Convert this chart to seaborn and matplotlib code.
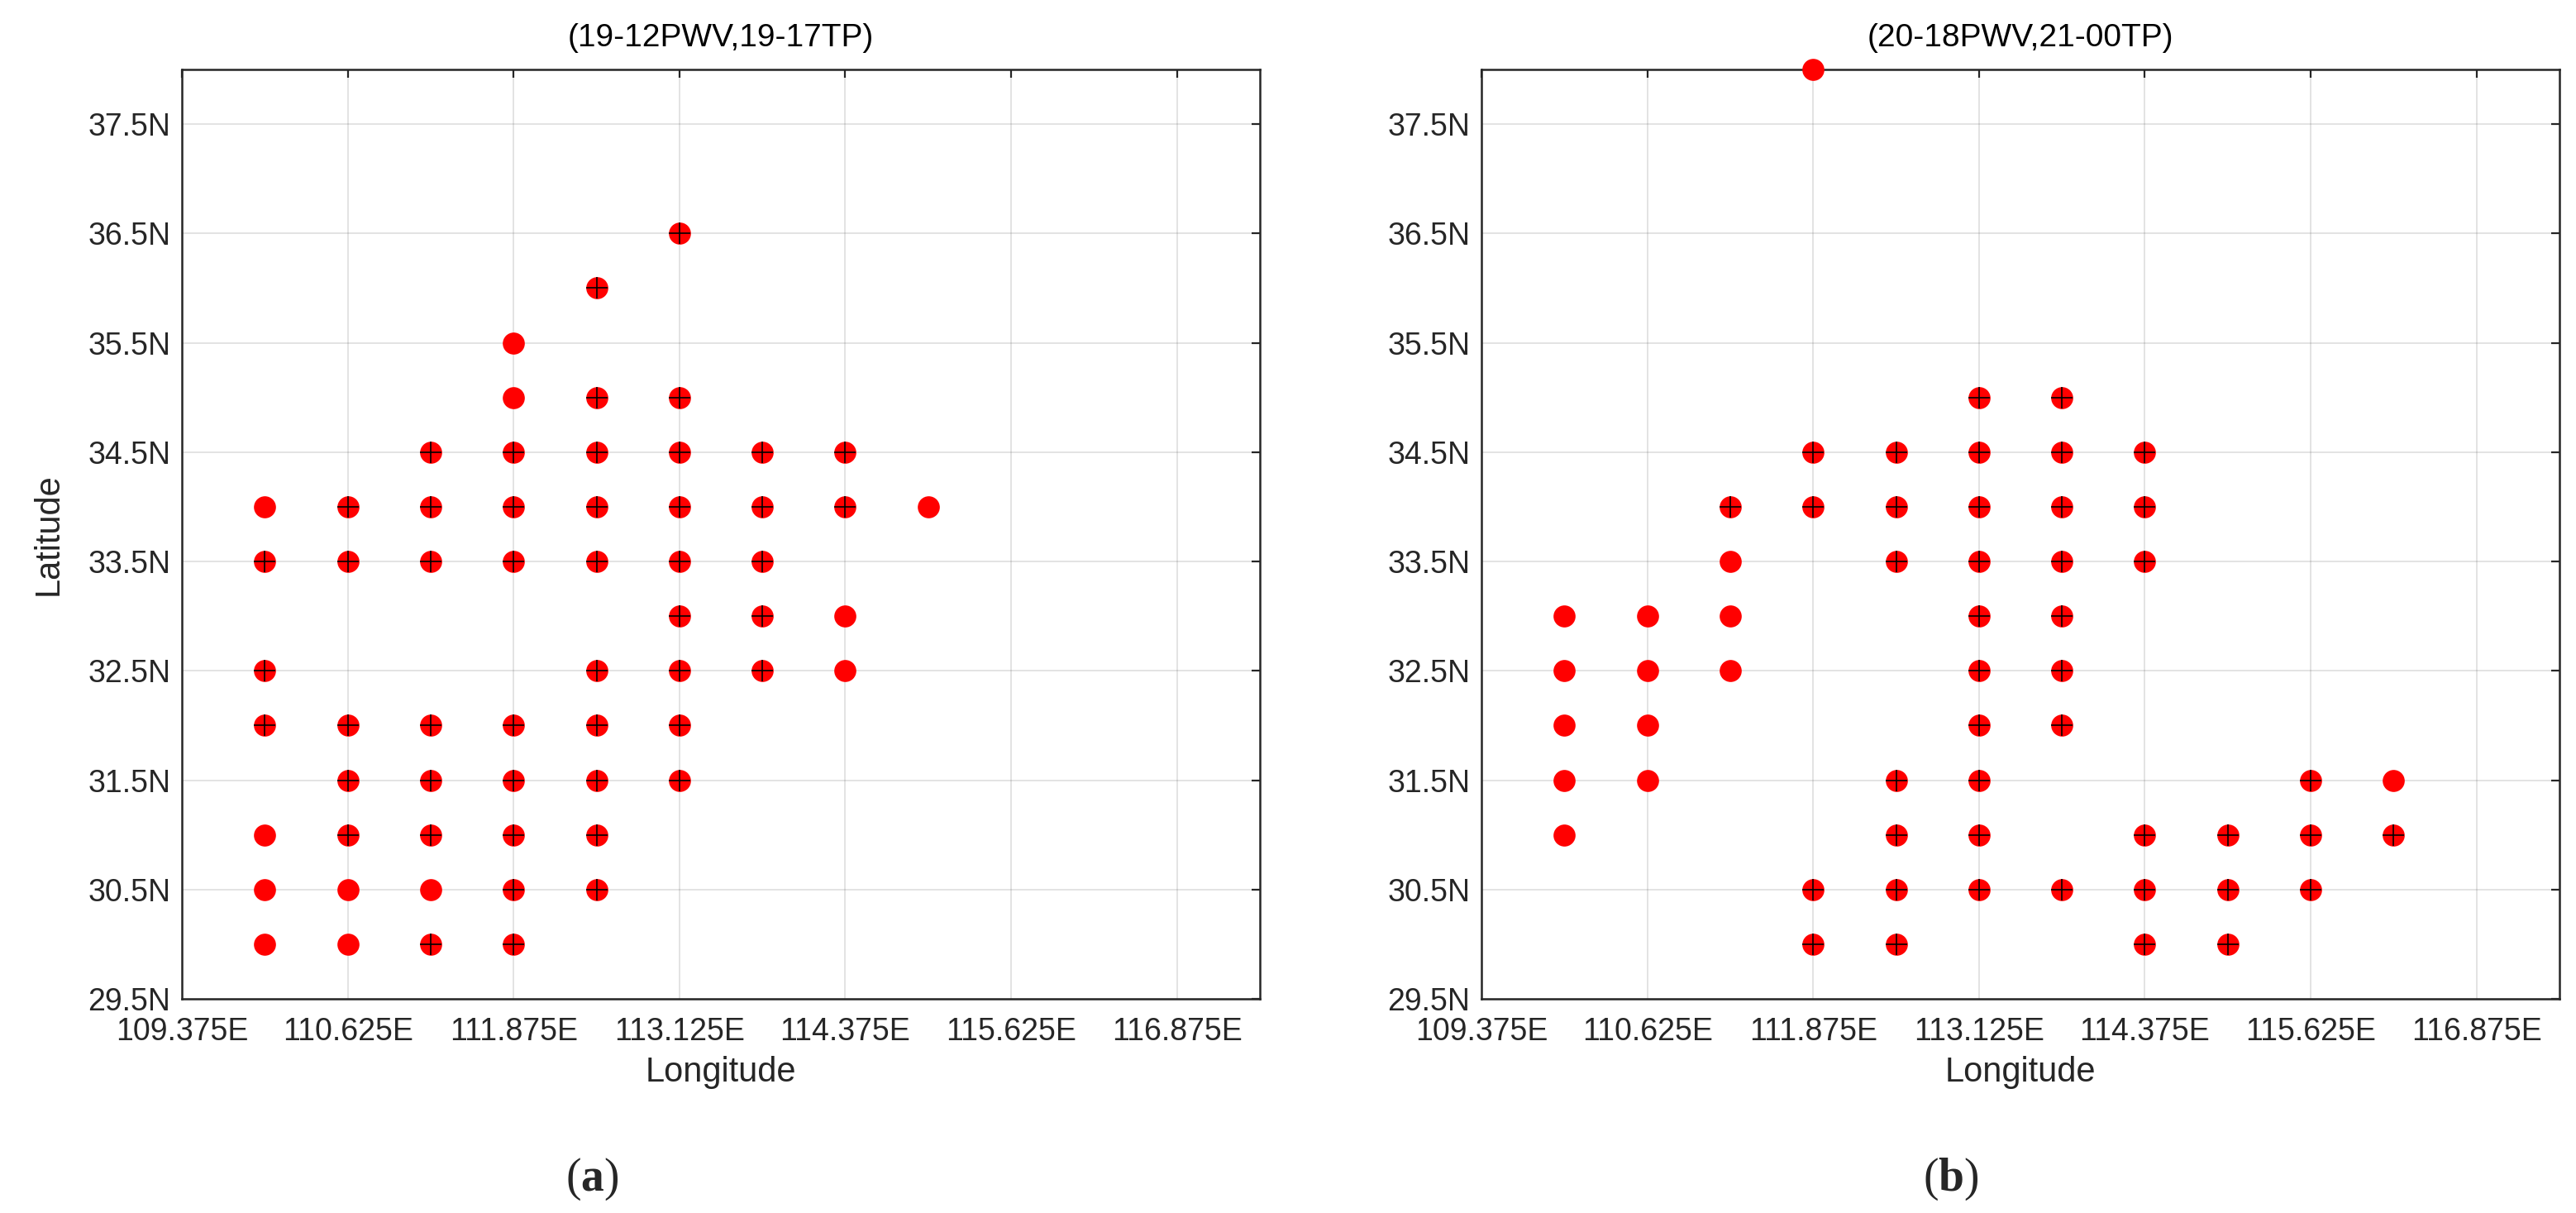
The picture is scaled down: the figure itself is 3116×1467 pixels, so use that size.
import numpy as np
import matplotlib
matplotlib.use('Agg')
import matplotlib.pyplot as plt
import pandas as pd
import seaborn as sns

sns.set_style('white')
plt.rcParams['font.family'] = ['Liberation Sans', 'DejaVu Sans']
plt.rcParams['mathtext.fontset'] = 'custom'
plt.rcParams['mathtext.bf'] = 'Liberation Serif:bold'
plt.rcParams['mathtext.rm'] = 'Liberation Serif'

# panel (a): grid points, plus = 1 where a black "+" is drawn on top
a_lon = [113.125,
         112.5,
         111.875,
         111.875, 112.5, 113.125,
         111.25, 111.875, 112.5, 113.125, 113.75, 114.375,
         110.0, 110.625, 111.25, 111.875, 112.5, 113.125, 113.75, 114.375, 115.0,
         110.0, 110.625, 111.25, 111.875, 112.5, 113.125, 113.75,
         113.125, 113.75, 114.375,
         110.0, 112.5, 113.125, 113.75, 114.375,
         110.0, 110.625, 111.25, 111.875, 112.5, 113.125,
         110.625, 111.25, 111.875, 112.5, 113.125,
         110.0, 110.625, 111.25, 111.875, 112.5,
         110.0, 110.625, 111.25, 111.875, 112.5,
         110.0, 110.625, 111.25, 111.875]
a_lat = [36.5,
         36.0,
         35.5,
         35.0, 35.0, 35.0,
         34.5, 34.5, 34.5, 34.5, 34.5, 34.5,
         34.0, 34.0, 34.0, 34.0, 34.0, 34.0, 34.0, 34.0, 34.0,
         33.5, 33.5, 33.5, 33.5, 33.5, 33.5, 33.5,
         33.0, 33.0, 33.0,
         32.5, 32.5, 32.5, 32.5, 32.5,
         32.0, 32.0, 32.0, 32.0, 32.0, 32.0,
         31.5, 31.5, 31.5, 31.5, 31.5,
         31.0, 31.0, 31.0, 31.0, 31.0,
         30.5, 30.5, 30.5, 30.5, 30.5,
         30.0, 30.0, 30.0, 30.0]
a_plus = [1,
          1,
          0,
          0, 1, 1,
          1, 1, 1, 1, 1, 1,
          0, 1, 1, 1, 1, 1, 1, 1, 0,
          1, 1, 1, 1, 1, 1, 1,
          1, 1, 0,
          1, 1, 1, 1, 0,
          1, 1, 1, 1, 1, 1,
          1, 1, 1, 1, 1,
          0, 1, 1, 1, 1,
          0, 0, 0, 1, 1,
          0, 0, 1, 1]

# panel (b)
b_lon = [111.875,
         113.125, 113.75,
         111.875, 112.5, 113.125, 113.75, 114.375,
         111.25, 111.875, 112.5, 113.125, 113.75, 114.375,
         111.25, 112.5, 113.125, 113.75, 114.375,
         110.0, 110.625, 111.25, 113.125, 113.75,
         110.0, 110.625, 111.25, 113.125, 113.75,
         110.0, 110.625, 113.125, 113.75,
         110.0, 110.625, 112.5, 113.125, 115.625, 116.25,
         110.0, 112.5, 113.125, 114.375, 115.0, 115.625, 116.25,
         111.875, 112.5, 113.125, 113.75, 114.375, 115.0, 115.625,
         111.875, 112.5, 114.375, 115.0]
b_lat = [38.0,
         35.0, 35.0,
         34.5, 34.5, 34.5, 34.5, 34.5,
         34.0, 34.0, 34.0, 34.0, 34.0, 34.0,
         33.5, 33.5, 33.5, 33.5, 33.5,
         33.0, 33.0, 33.0, 33.0, 33.0,
         32.5, 32.5, 32.5, 32.5, 32.5,
         32.0, 32.0, 32.0, 32.0,
         31.5, 31.5, 31.5, 31.5, 31.5, 31.5,
         31.0, 31.0, 31.0, 31.0, 31.0, 31.0, 31.0,
         30.5, 30.5, 30.5, 30.5, 30.5, 30.5, 30.5,
         30.0, 30.0, 30.0, 30.0]
b_plus = [0,
          1, 1,
          1, 1, 1, 1, 1,
          1, 1, 1, 1, 1, 1,
          0, 1, 1, 1, 1,
          0, 0, 0, 1, 1,
          0, 0, 0, 1, 1,
          0, 0, 1, 1,
          0, 0, 1, 1, 1, 0,
          0, 1, 1, 1, 1, 1, 1,
          1, 1, 1, 1, 1, 1, 1,
          1, 1, 1, 1]

titles = ['(19-12PWV,19-17TP)', '(20-18PWV,21-00TP)']
xticks = [109.375, 110.625, 111.875, 113.125, 114.375, 115.625, 116.875]
yticks = [29.5, 30.5, 31.5, 32.5, 33.5, 34.5, 35.5, 36.5, 37.5]

W, H = 3116, 1467
fig = plt.figure(figsize=(W / 200, H / 200), dpi=200)
ax_a = fig.add_axes([220 / W, 1 - 1208 / H, 1304 / W, 1124 / H])
ax_b = fig.add_axes([1792 / W, 1 - 1208 / H, 1304 / W, 1124 / H])

dark = (0.15, 0.15, 0.15)
panels = [(ax_a, a_lon, a_lat, a_plus), (ax_b, b_lon, b_lat, b_plus)]
for i, (ax, lon, lat, plus) in enumerate(panels):
    df = pd.DataFrame({'lon': lon, 'lat': lat, 'plus': plus})
    sns.scatterplot(data=df, x='lon', y='lat', color='red', s=92, marker='o',
                    linewidth=0, ax=ax, clip_on=False, zorder=3)
    sns.scatterplot(data=df[df['plus'] == 1], x='lon', y='lat', color='black', s=92,
                    marker='+', linewidth=0.6, ax=ax, clip_on=False, zorder=4)

    ax.set_xlim(109.375, 117.5)
    ax.set_ylim(29.5, 38.0)
    ax.set_xticks(xticks)
    ax.set_xticklabels([f'{v:.3f}E' for v in xticks])
    ax.set_yticks(yticks)
    ax.set_yticklabels([f'{v:.1f}N' for v in yticks])
    ax.grid(True, color=dark, alpha=0.13, linewidth=0.7)
    ax.set_axisbelow(True)
    ax.tick_params(direction='in', length=3.5, width=0.8, color=dark,
                   labelcolor=dark, labelsize=13.5, top=True, right=True)
    ax.tick_params(axis='x', pad=8)
    ax.tick_params(axis='y', pad=5)
    for sp in ax.spines.values():
        sp.set_visible(True)
        sp.set_color(dark)
        sp.set_linewidth(0.9)
    ax.set_title(titles[i], fontsize=14, color='black', pad=10)
    ax.set_xlabel('Longitude', fontsize=15, color=dark, labelpad=4)
    ax.set_ylabel('Latitude' if i == 0 else '', fontsize=15, color=dark, labelpad=10)

fig.text(716 / W, 1 - 1426 / H, r'($\mathbf{a}$)', ha='center', va='center',
         fontsize=20, family='Liberation Serif')
fig.text(2360 / W, 1 - 1426 / H, r'($\mathbf{b}$)', ha='center', va='center',
         fontsize=20, family='Liberation Serif')

fig.savefig('out.png', dpi=200, facecolor='white')
